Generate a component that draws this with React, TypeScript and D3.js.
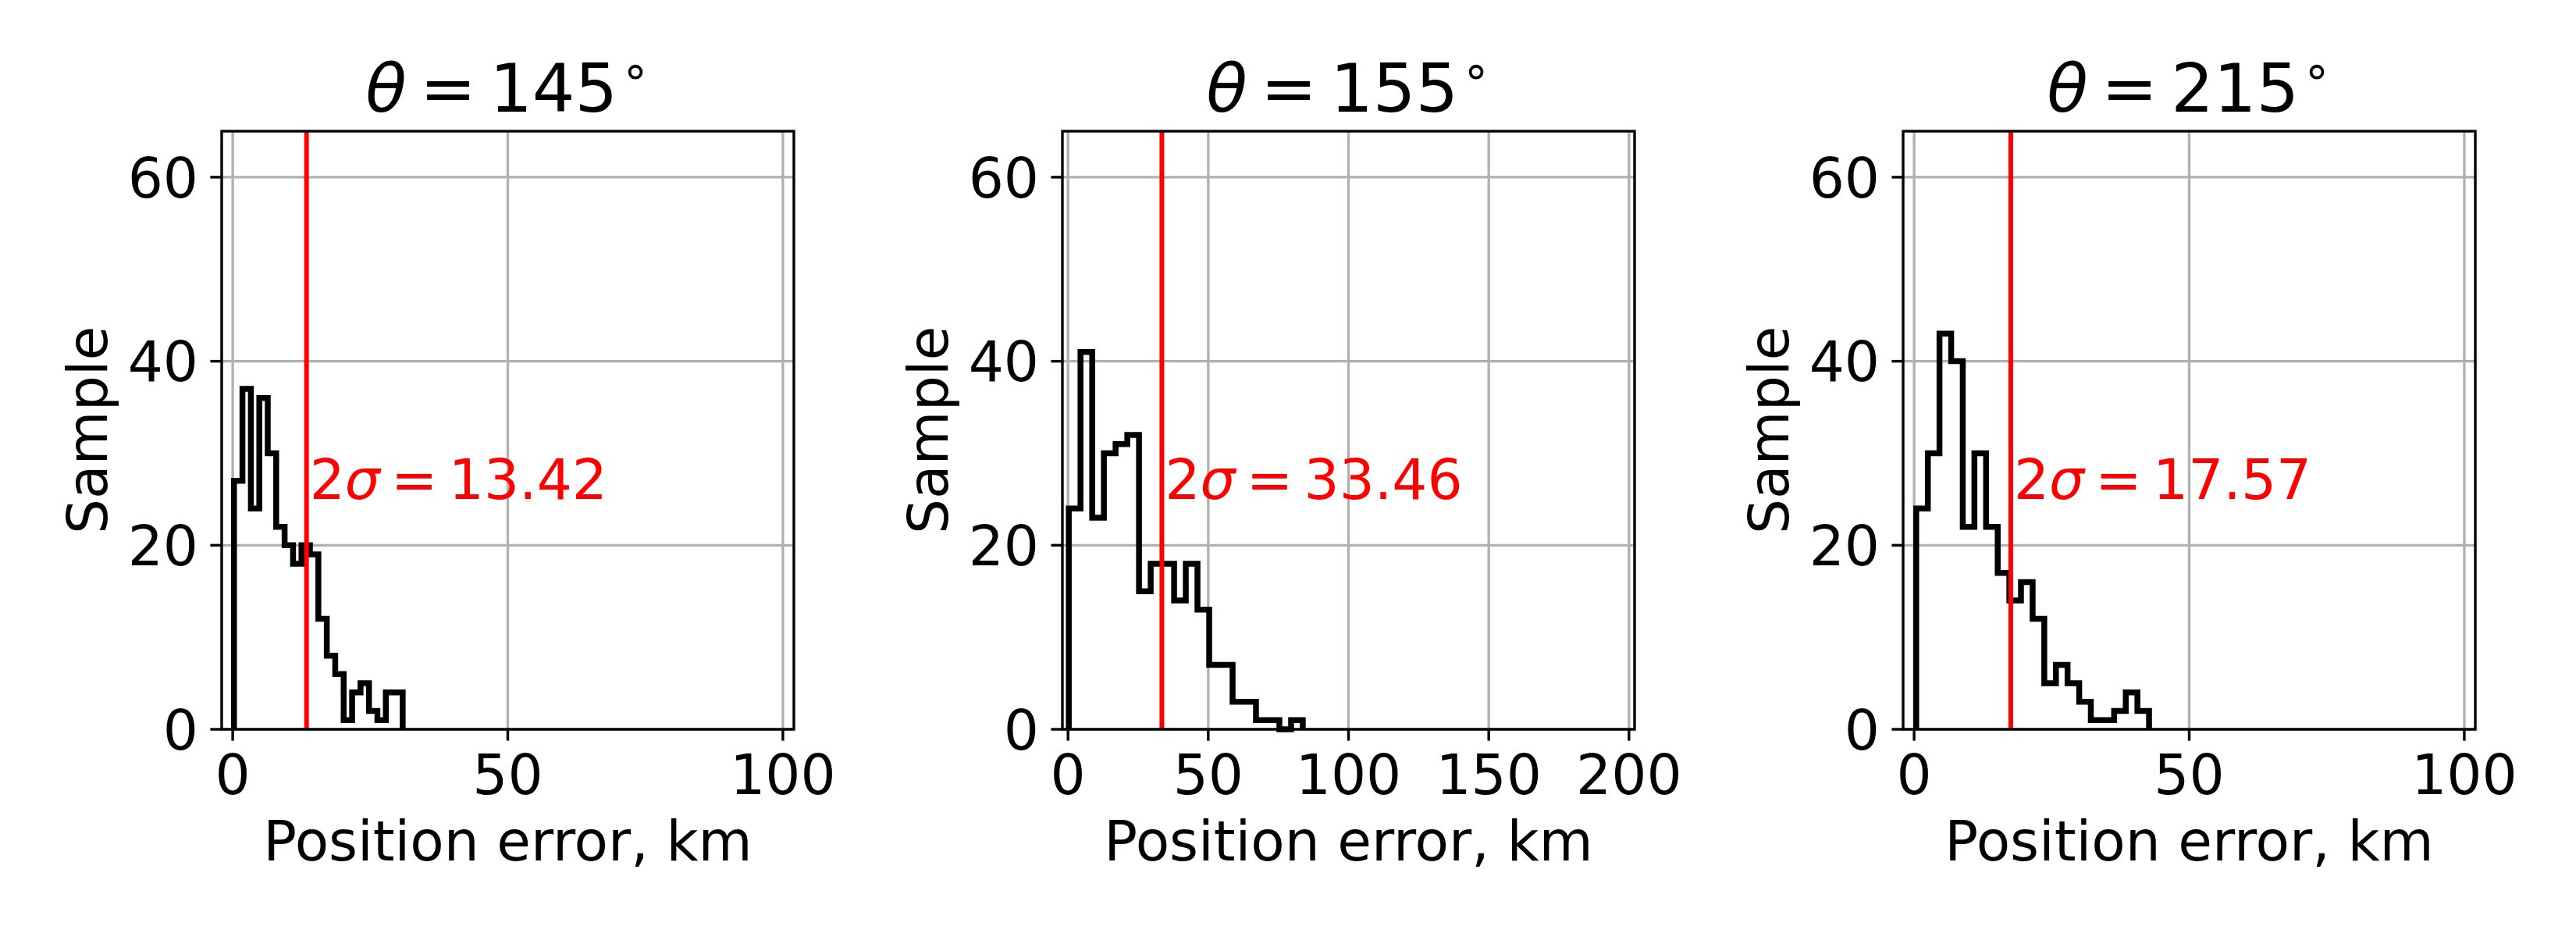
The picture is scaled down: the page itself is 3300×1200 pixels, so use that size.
import React from "react";
import * as d3 from "d3";

// ---- data ----
const angles = ["145", "155", "215"];
const sigma2 = [13.42, 33.46, 17.57];
const xMaxes = [100, 200, 100];
const xTicks145 = [0, 50, 100];
const xTicks155 = [0, 50, 100, 150, 200];
const xTicks215 = [0, 50, 100];
const yTicks = [0, 20, 40, 60];
const counts145 = [27, 37, 24, 36, 30, 22, 20, 18, 20, 19, 12, 8, 6, 1, 4, 5, 2, 1, 4, 4];
const counts155 = [24, 41, 23, 30, 31, 32, 15, 18, 18, 14, 18, 13, 7, 7, 3, 3, 1, 1, 0, 1];
const counts215 = [24, 30, 43, 40, 22, 30, 22, 17, 14, 16, 12, 5, 7, 5, 3, 1, 1, 2, 4, 2];
const binRange145 = [0.24, 30.9];
const binRange155 = [0.28, 83.7];
const binRange215 = [0.38, 42.7];

const panels = [
  { angle: angles[0], sigma: sigma2[0], xMax: xMaxes[0], xTicks: xTicks145, counts: counts145, range: binRange145 },
  { angle: angles[1], sigma: sigma2[1], xMax: xMaxes[1], xTicks: xTicks155, counts: counts155, range: binRange155 },
  { angle: angles[2], sigma: sigma2[2], xMax: xMaxes[2], xTicks: xTicks215, counts: counts215, range: binRange215 },
];

const W = 3300;
const H = 1200;
const lefts = [284, 1361, 2438];
const PW = 733;
const TOP = 168;
const BOTTOM = 934;
const FONT = "'DejaVu Sans', sans-serif";
const FS = 71;
const TITLE_FS = 86;

function Panel({ p, left }: { p: any; left: number }) {
  const x = d3.scaleLinear().domain([-2, p.xMax + 2]).range([left, left + PW]);
  const y = d3.scaleLinear().domain([0, 65]).range([BOTTOM, TOP]);
  const n = p.counts.length;
  const edges = d3.range(n + 1).map((i) => p.range[0] + ((p.range[1] - p.range[0]) * i) / n);
  const pts: [number, number][] = [[edges[0], 0]];
  p.counts.forEach((c: number, i: number) => {
    pts.push([edges[i], c]);
    pts.push([edges[i + 1], c]);
  });
  pts.push([edges[n], 0]);
  const line = d3
    .line<[number, number]>()
    .x((d) => x(d[0]))
    .y((d) => y(d[1]));
  const cx = left + PW / 2;
  const sx = x(p.sigma);
  return (
    <g>
      {/* grid */}
      {p.xTicks.map((t: number) => (
        <line key={"gx" + t} x1={x(t)} x2={x(t)} y1={TOP} y2={BOTTOM} stroke="#b0b0b0" strokeWidth={3.3} />
      ))}
      {yTicks.map((t) => (
        <line key={"gy" + t} x1={left} x2={left + PW} y1={y(t)} y2={y(t)} stroke="#b0b0b0" strokeWidth={3.3} />
      ))}
      {/* histogram */}
      <path d={line(pts) || ""} fill="none" stroke="#000" strokeWidth={7.5} strokeLinejoin="miter" />
      {/* sigma line */}
      <line x1={sx} x2={sx} y1={TOP} y2={BOTTOM} stroke="#ff0000" strokeWidth={6} />
      <text x={sx + 4} y={y(25)} fontFamily={FONT} fontSize={FS} fill="#ff0000">
        <tspan>2</tspan>
        <tspan fontStyle="italic">σ</tspan>
        <tspan>{"\u2009=\u2009"}</tspan>
        <tspan>{p.sigma.toFixed(2)}</tspan>
      </text>
      {/* spines */}
      <rect x={left} y={TOP} width={PW} height={BOTTOM - TOP} fill="none" stroke="#000" strokeWidth={3.4} />
      {/* x ticks */}
      {p.xTicks.map((t: number) => (
        <g key={"xt" + t}>
          <line x1={x(t)} x2={x(t)} y1={BOTTOM} y2={BOTTOM + 14.6} stroke="#000" strokeWidth={3.4} />
          <text x={x(t)} y={1016.7} textAnchor="middle" fontFamily={FONT} fontSize={FS} fill="#000">
            {t}
          </text>
        </g>
      ))}
      {/* y ticks */}
      {yTicks.map((t) => (
        <g key={"yt" + t}>
          <line x1={left - 14.6} x2={left} y1={y(t)} y2={y(t)} stroke="#000" strokeWidth={3.4} />
          <text x={left - 30} y={y(t) + 0.364 * FS} textAnchor="end" fontFamily={FONT} fontSize={FS} fill="#000">
            {t}
          </text>
        </g>
      ))}
      {/* labels */}
      <text x={cx} y={1101.7} textAnchor="middle" fontFamily={FONT} fontSize={FS} fill="#000">
        Position error, km
      </text>
      <text
        transform={`translate(${left - 147},${(TOP + BOTTOM) / 2}) rotate(-90)`}
        textAnchor="middle"
        fontFamily={FONT}
        fontSize={FS}
        fill="#000"
      >
        Sample
      </text>
      {/* title */}
      <text x={cx} y={143} textAnchor="middle" fontFamily={FONT} fontSize={TITLE_FS} fill="#000">
        <tspan fontStyle="italic">θ</tspan>
        <tspan>{"\u2009=\u2009" + p.angle}</tspan>
        <tspan fontSize={60} dy={-32} dx={4}>∘</tspan>
      </text>
    </g>
  );
}

export default function App() {
  return (
    <svg
      width={W}
      height={H}
      viewBox={`0 0 ${W} ${H}`}
      style={{ position: "absolute", left: 0, top: 0, background: "#fff" }}
    >
      <rect x={0} y={0} width={W} height={H} fill="#fff" />
      {panels.map((p, i) => (
        <Panel key={i} p={p} left={lefts[i]} />
      ))}
    </svg>
  );
}
